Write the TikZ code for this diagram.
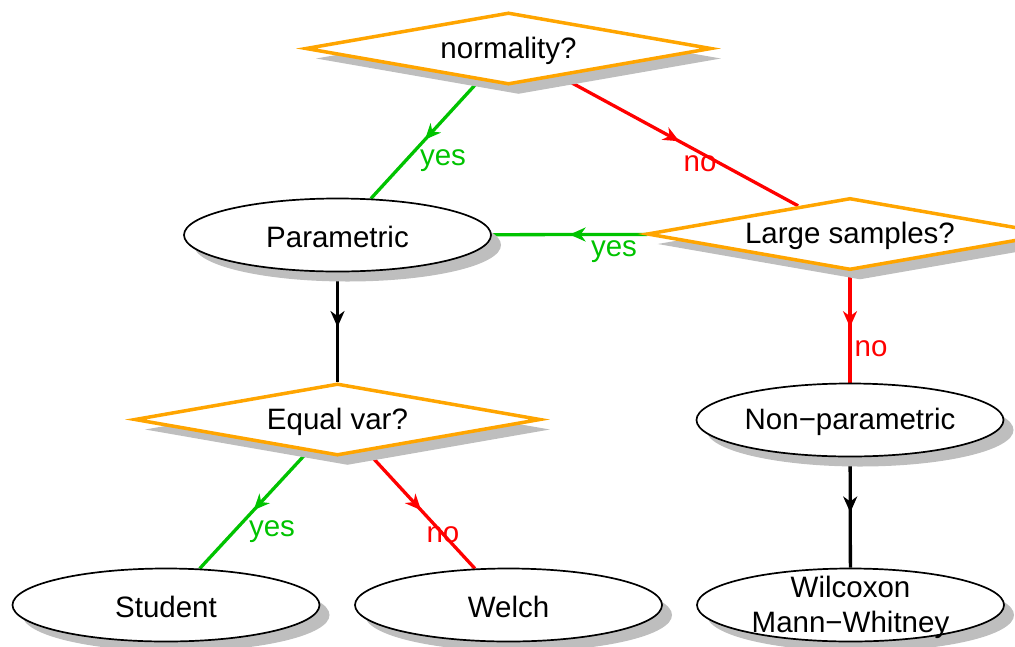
\documentclass[tikz,border=0pt]{standalone}
\usepackage{fontspec}
\setmainfont{Liberation Sans}
\usetikzlibrary{shapes.geometric,shadows,arrows.meta,decorations.markings,backgrounds}
\definecolor{ygreen}{RGB}{0,195,0}
\definecolor{shad}{RGB}{190,190,190}
\definecolor{dorange}{RGB}{255,165,0}
\begin{document}
\begin{tikzpicture}[x=1pt,y=-1pt,font=\fontsize{29.5}{35}\selectfont,
  shd/.style={drop shadow={shadow xshift=10pt,shadow yshift=-10pt,fill=shad,opacity=1}},
  dec/.style={diamond,aspect=5.48,draw=dorange,line width=3.5pt,fill=white,minimum width=406pt,minimum height=72pt,inner sep=0pt,shd},
  ell/.style={ellipse,draw=black,line width=1.7pt,fill=white,minimum width=307pt,minimum height=73pt,inner sep=0pt,shd},
  mid/.style={postaction={decorate},decoration={markings,mark=at position 0.5 with {\arrow{Stealth[length=16pt,width=14pt,inset=5pt]}}}},
  yesedge/.style={color=ygreen,line width=3.3pt,mid},
  noedge/.style={color=red,line width=3.3pt,mid},
  plainedge/.style={color=black,line width=3.3pt,mid},
  yeslab/.style={text=ygreen,inner sep=0pt},
  nolab/.style={text=red,inner sep=0pt},
  txt/.style={inner sep=0pt,yshift=-2pt}]
\useasboundingbox (0,0) rectangle (1015,646);
\node[dec] (norm) at (508.5,48.5) {};
\node[dec] (large) at (850,234) {};
\node[dec] (eqvar) at (337.5,419.5) {};
\node[ell] (param) at (337.5,235) {};
\node[ell] (nonpar) at (850,420) {};
\node[ell] (student) at (166,605) {};
\node[ell] (welch) at (508.5,605) {};
\node[ell] (wil) at (850.5,605) {};
\node[txt] (normtext) at (norm) {normality?};
\node[txt] (largetext) at (large) {Large samples?};
\node[txt] (eqvartext) at (eqvar) {Equal var?};
\node[txt] (paramtext) at (param) {Parametric};
\node[txt] (nonpartext) at (nonpar) {Non−parametric};
\node[txt] (studenttext) at (student) {Student};
\node[txt] (welchtext) at (welch) {Welch};
\node[txt,align=center] (wiltext) at (wil) {Wilcoxon\\Mann−Whitney};
\node[yeslab] (l1) at (443,161) {yes};
\node[nolab] (l2) at (700,164) {no};
\node[yeslab] (l3) at (614,252) {yes};
\node[nolab] (l4) at (871,349) {no};
\node[yeslab] (l5) at (272,532) {yes};
\node[nolab] (l6) at (443,535) {no};
\begin{scope}[on background layer]
\draw[yesedge] (norm) -- (param);
\draw[noedge] (norm) -- (large);
\draw[yesedge] (large) -- (param);
\draw[noedge] (large) -- (nonpar);
\draw[plainedge] (param) -- (eqvar);
\draw[yesedge] (eqvar) -- (student);
\draw[noedge] (eqvar) -- (welch);
\draw[plainedge] (nonpar) -- (wil);
\end{scope}
\end{tikzpicture}
\end{document}
